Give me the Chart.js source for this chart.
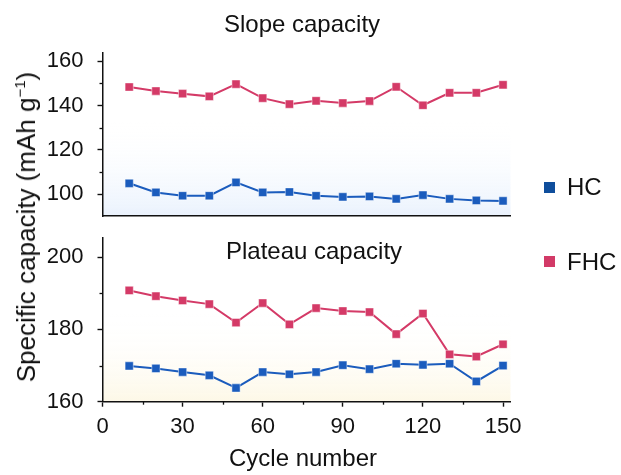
<!DOCTYPE html>
<html>
<head>
<meta charset="utf-8">
<script src="https://cdn.jsdelivr.net/npm/chart.js@4.4.1/dist/chart.umd.min.js"></script>
<style>
  body { margin: 0; background: #fff; font-family: 'Liberation Sans', Arial, sans-serif; color: #111; }
  #wrap { position: relative; width: 621px; height: 475px; overflow: hidden; }
  #wrap canvas { position: absolute; left: 0; }
  .txt { position: absolute; white-space: nowrap; font-size: 24px; line-height: 24px; }
  .center { transform: translateX(-50%); }
  .ylab { left: 26px; top: 227px; font-size: 26px; line-height: 26px; transform: translate(-50%, -50%) rotate(-90deg); }
  .ylab sup { font-size: 15px; line-height: 0; vertical-align: 10px; }
  .key { position: absolute; width: 11px; height: 11px; }
</style>
</head>
<body>
<div id="wrap">
  <canvas id="slope" width="621" height="230" style="top:0"></canvas>
  <canvas id="plateau" width="621" height="245" style="top:230px"></canvas>

  <div class="txt center" style="left:302px; top:12px">Slope capacity</div>
  <div class="txt center" style="left:314px; top:239px">Plateau capacity</div>
  <div class="txt center" style="left:303px; top:446px">Cycle number</div>
  <div class="txt ylab">Specific capacity (mAh g<sup>−1</sup>)</div>

  <div class="key" style="left:544px; top:182px; background:#0f4e9c"></div>
  <div class="txt" style="left:567px; top:175px">HC</div>
  <div class="key" style="left:544px; top:256px; background:#d23a67"></div>
  <div class="txt" style="left:567px; top:250px">FHC</div>
</div>

<script>
// cycle number for each measurement
const cycles = [10, 20, 30, 40, 50, 60, 70, 80, 90, 100, 110, 120, 130, 140, 150];

// slope region capacity (mAh/g)
const slopeHC  = [105.0, 100.9, 99.4, 99.4, 105.4, 100.9, 101.1, 99.4, 98.9, 99.1, 98.0, 99.7, 98.0, 97.3, 97.1];
const slopeFHC = [148.3, 146.5, 145.3, 144.1, 149.6, 143.3, 140.6, 142.1, 141.1, 142.0, 148.4, 140.1, 145.7, 145.7, 149.3];

// plateau region capacity (mAh/g)
const plateauHC  = [169.9, 169.2, 168.2, 167.3, 163.8, 168.2, 167.6, 168.2, 170.1, 169.0, 170.5, 170.2, 170.5, 165.6, 170.0];
const plateauFHC = [190.8, 189.2, 188.0, 187.0, 181.9, 187.3, 181.4, 185.9, 185.1, 184.8, 178.7, 184.4, 173.1, 172.5, 175.9];

// axis ticks
const cycleTicks = [0, 30, 60, 90, 120, 150];
const cycleMinor = [15, 45, 75, 105, 135];
const slopeTicks = [100, 120, 140, 160];
const slopeMinor = [110, 130, 150];
const plateauTicks = [160, 180, 200];
const plateauMinor = [170, 190];

const BLUE = '#1b5cbd';
const PINK = '#d43a67';
const INK = '#111';
const AXIS_W = 100;   // room left of the plot for the y tick labels
const XAXIS_H = 73;   // room under the lower plot for the x tick labels

// keep the plot area exactly where the padding puts it
function noScalePadding(s) {
  s.paddingTop = 0; s.paddingBottom = 0; s.paddingLeft = 0; s.paddingRight = 0;
}

// soft fade at the bottom of each panel
const panelBg = {
  id: 'panelBg',
  beforeDraw(chart, args, opts) {
    const { ctx, chartArea: a, scales: { y } } = chart;
    const top = y.getPixelForValue(opts.from);
    const g = ctx.createLinearGradient(0, top, 0, a.bottom);
    g.addColorStop(0, 'rgba(255,255,255,0)');
    g.addColorStop(1, opts.color);
    ctx.save();
    ctx.fillStyle = g;
    ctx.fillRect(a.left, top, a.right - a.left, a.bottom - top);
    ctx.restore();
  }
};

// short unlabelled ticks between the major ones
const minorTicks = {
  id: 'minorTicks',
  afterDraw(chart, args, opts) {
    const { ctx, chartArea: a, scales } = chart;
    ctx.save();
    ctx.strokeStyle = INK;
    ctx.lineWidth = 1.3;
    (opts.y || []).forEach(v => {
      const p = Math.round(scales.y.getPixelForValue(v)) + 0.5;
      ctx.beginPath(); ctx.moveTo(a.left, p); ctx.lineTo(a.left - 3, p); ctx.stroke();
    });
    (opts.x || []).forEach(v => {
      const p = Math.round(scales.x.getPixelForValue(v)) + 0.5;
      ctx.beginPath(); ctx.moveTo(p, a.bottom); ctx.lineTo(p, a.bottom + 3); ctx.stroke();
    });
    ctx.restore();
  }
};

function series(label, data, color) {
  return {
    label, data: data.map((v, i) => ({ x: cycles[i], y: v })),
    borderColor: color, backgroundColor: color, borderWidth: 2,
    pointStyle: 'rect', pointRadius: 5.8, pointBorderWidth: 1,
    pointBackgroundColor: color, pointBorderColor: 'rgba(255,255,255,0.45)',
    tension: 0,
  };
}

function yScale(min, max, ticks) {
  return {
    min, max,
    afterFit: s => { s.width = AXIS_W; noScalePadding(s); },
    afterBuildTicks: s => { s.ticks = ticks.map(v => ({ value: v })); },
    ticks: { color: INK, padding: 14, font: { family: 'Liberation Sans', size: 22 } },
    grid: { drawOnChartArea: false, drawTicks: true, tickLength: 5, tickColor: INK, tickWidth: 1.4 },
    border: { display: true, color: INK, width: 1.5 },
  };
}

Chart.defaults.font.family = 'Liberation Sans';

new Chart(document.getElementById('slope'), {
  type: 'line',
  data: { datasets: [series('HC', slopeHC, BLUE), series('FHC', slopeFHC, PINK)] },
  options: {
    responsive: false, animation: false, devicePixelRatio: 1,
    layout: { padding: { left: 102.5 - AXIS_W, top: 53, right: 110.5, bottom: 14 } },
    scales: {
      x: {
        type: 'linear', min: 0, max: 152.8,
        afterFit: s => { s.height = 0; noScalePadding(s); },
        ticks: { display: false },
        grid: { display: false },
        border: { display: true, color: INK, width: 1.5 },
      },
      y: yScale(90.3, 163.6, slopeTicks),
    },
    plugins: {
      legend: { display: false }, tooltip: { enabled: false },
      panelBg: { from: 133, color: '#eaf2fd' },
      minorTicks: { y: slopeMinor },
    },
  },
  plugins: [panelBg, minorTicks],
});

new Chart(document.getElementById('plateau'), {
  type: 'line',
  data: { datasets: [series('HC', plateauHC, BLUE), series('FHC', plateauFHC, PINK)] },
  options: {
    responsive: false, animation: false, devicePixelRatio: 1,
    layout: { padding: { left: 102.5 - AXIS_W, top: 8, right: 110.5, bottom: 73.3 - XAXIS_H } },
    scales: {
      x: {
        type: 'linear', min: 0, max: 152.8,
        afterFit: s => { s.height = XAXIS_H; noScalePadding(s); },
        afterBuildTicks: s => { s.ticks = cycleTicks.map(v => ({ value: v })); },
        ticks: { color: INK, padding: 7, autoSkip: false, maxRotation: 0, font: { family: 'Liberation Sans', size: 22 } },
        grid: { drawOnChartArea: false, drawTicks: true, tickLength: 5, tickColor: INK, tickWidth: 1.4 },
        border: { display: true, color: INK, width: 1.5 },
      },
      y: yScale(160, 205.3, plateauTicks),
    },
    plugins: {
      legend: { display: false }, tooltip: { enabled: false },
      panelBg: { from: 184.5, color: '#fdf8e7' },
      minorTicks: { y: plateauMinor, x: cycleMinor },
    },
  },
  plugins: [panelBg, minorTicks],
});
</script>
</body>
</html>
